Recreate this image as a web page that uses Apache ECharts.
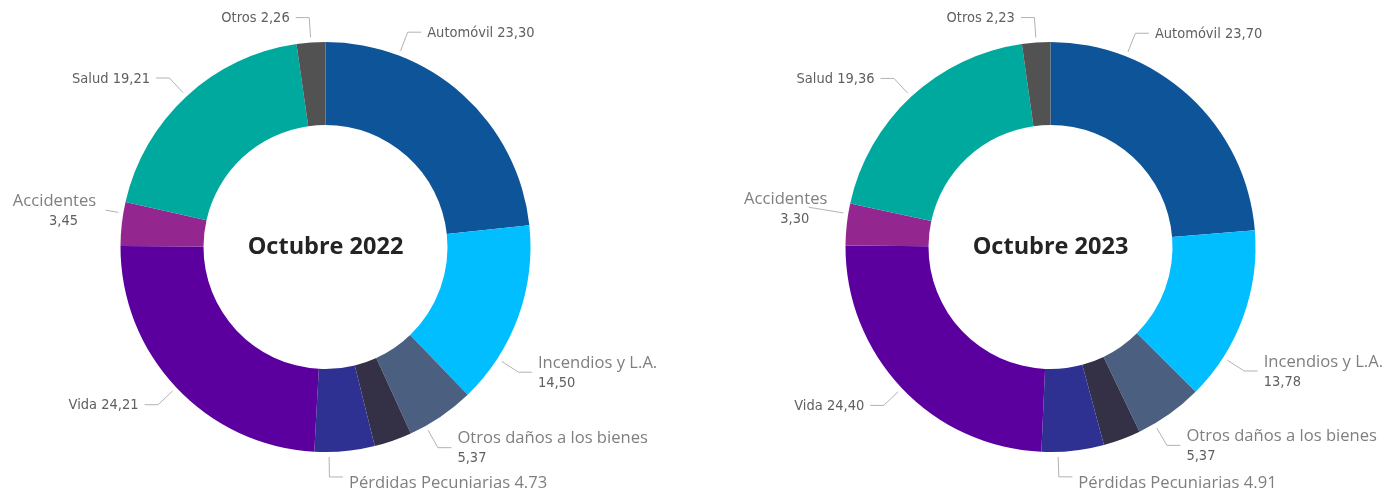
<!DOCTYPE html>
<html>
<head>
<meta charset="utf-8">
<script src="https://cdn.jsdelivr.net/npm/echarts@6/dist/echarts.min.js"></script>
<style>
html,body{margin:0;padding:0;background:#ffffff;}
#chart{width:1398px;height:492px;}
</style>
</head>
<body>
<div id="chart"></div>
<script>
// ---------- DATA ----------
const categories = ['Automóvil', 'Incendios y L.A.', 'Otros daños a los bienes', '(sin etiqueta)', 'Pérdidas Pecuniarias', 'Vida', 'Accidentes', 'Salud', 'Otros'];
const values2022 = [23.30, 14.50, 5.37, 2.97, 4.73, 24.21, 3.45, 19.21, 2.26];
const values2023 = [23.70, 13.78, 5.37, 2.95, 4.91, 24.40, 3.30, 19.36, 2.23];
const chartTitles = ['Octubre 2022', 'Octubre 2023'];

// ---------- STYLE ----------
const sliceColors = ['#0E5499', '#00BEFF', '#4B6080', '#343146', '#2E3192', '#5B009F', '#93278F', '#00A99D', '#525252'];
const labelKind = {
  'Automóvil': 'inline', 'Incendios y L.A.': 'stack', 'Otros daños a los bienes': 'stack',
  '(sin etiqueta)': 'none', 'Pérdidas Pecuniarias': 'seginline', 'Vida': 'inline',
  'Accidentes': 'stackc', 'Salud': 'inline', 'Otros': 'inline'
};
const decimalSep = { 'Pérdidas Pecuniarias': '.' };

const layout = {
  centers: [[325.5, 247], [1050.5, 247]],
  r0: 122, r: 205,
  lineStart: 5, lineLen: 20, lineLen2: 13.5, gap: 6, textDy: 1,
  tweaks: [
    { 'Automóvil': { shift: -21 }, 'Incendios y L.A.': { shift: 13 }, 'Otros daños a los bienes': { shift: 5 },
      'Pérdidas Pecuniarias': { shift: 4.4, dy: 5 }, 'Accidentes': { shift: 3, len: 13, len2: 0, align: 'center', dx: -45 } },
    { 'Automóvil': { shift: -21 }, 'Incendios y L.A.': { shift: 12.5 }, 'Otros daños a los bienes': { shift: 5 },
      'Pérdidas Pecuniarias': { shift: 4.2, dy: 5 }, 'Accidentes': { shift: 3, len: 35, len2: 0, align: 'center', dx: -17, dy: 1 } }
  ]
};

const dinFont = { fontFamily: 'DejaVu Sans Condensed', fontSize: 14.5, color: '#606060', lineHeight: 20 };
const rich = {
  din: dinFont,
  dinc: Object.assign({}, dinFont, { padding: [0, 0, 0, 18] }),
  seg: { fontFamily: 'Open Sans', fontSize: 16.6, color: '#7f7f7f', lineHeight: 20 }
};

function fmtVal(name, v) {
  return v.toFixed(2).replace('.', decimalSep[name] || ',');
}
function formatter(p) {
  const kind = labelKind[p.name];
  const v = fmtVal(p.name, p.value);
  if (kind === 'inline') return '{din|' + p.name + ' ' + v + '}';
  if (kind === 'stack') return '{seg|' + p.name + '}\n{din|' + v + '}';
  if (kind === 'stackc') return '{seg|' + p.name + '}\n{dinc|' + v + '}';
  if (kind === 'seginline') return '{seg|' + p.name + ' ' + v + '}';
  return '';
}

const allValues = [values2022, values2023];

function makeLabelLayout(si) {
  return function (params) {
    const vals = allValues[si];
    const idx = params.dataIndex;
    const name = categories[idx];
    const total = vals.reduce((a, b) => a + b, 0);
    let cum = 0;
    for (let k = 0; k < idx; k++) cum += vals[k];
    const tw = layout.tweaks[si][name] || {};
    const theta = ((cum + vals[idx] / 2) / total * 360 + (tw.shift || 0)) * Math.PI / 180;
    const dx = Math.sin(theta), dy = -Math.cos(theta);
    const c = layout.centers[si];
    const r1 = layout.r + layout.lineStart;
    const r2 = r1 + (tw.len != null ? tw.len : layout.lineLen);
    const side = dx >= 0 ? 1 : -1;
    const len2 = tw.len2 != null ? tw.len2 : layout.lineLen2;
    const p1 = [c[0] + r1 * dx, c[1] + r1 * dy];
    const p2 = [c[0] + r2 * dx, c[1] + r2 * dy];
    const p3 = [p2[0] + side * len2, p2[1]];
    return {
      x: p3[0] + side * layout.gap + (tw.dx || 0),
      y: p3[1] + layout.textDy + (tw.dy || 0),
      align: tw.align || (side > 0 ? 'left' : 'right'),
      verticalAlign: 'middle',
      labelLinePoints: [p1, p2, p3]
    };
  };
}

const chart = echarts.init(document.getElementById('chart'), null, { renderer: 'canvas' });

const series = allValues.map((vals, si) => ({
  type: 'pie',
  center: layout.centers[si],
  radius: [layout.r0, layout.r],
  startAngle: 90,
  clockwise: true,
  avoidLabelOverlap: false,
  animation: false,
  emphasis: { disabled: true },
  itemStyle: { borderWidth: 0 },
  label: { show: true, position: 'outside', overflow: 'none', formatter: formatter, rich: rich },
  labelLine: { show: true, length: 20, length2: 13, lineStyle: { color: '#b3b3b3', width: 1 } },
  labelLayout: makeLabelLayout(si),
  data: categories.map((name, j) => ({
    name: name,
    value: vals[j],
    itemStyle: { color: sliceColors[j] },
    label: { show: labelKind[name] !== 'none' },
    labelLine: { show: labelKind[name] !== 'none' }
  }))
}));

chart.setOption({
  animation: false,
  backgroundColor: '#ffffff',
  tooltip: { show: false },
  graphic: chartTitles.map((t, si) => ({
    type: 'text',
    x: layout.centers[si][0],
    y: layout.centers[si][1],
    silent: true,
    style: {
      text: t,
      align: 'center',
      verticalAlign: 'middle',
      fontFamily: 'Open Sans',
      fontWeight: 'bold',
      fontSize: 23.5,
      fill: '#252423'
    }
  })),
  series: series
});
</script>
</body>
</html>
